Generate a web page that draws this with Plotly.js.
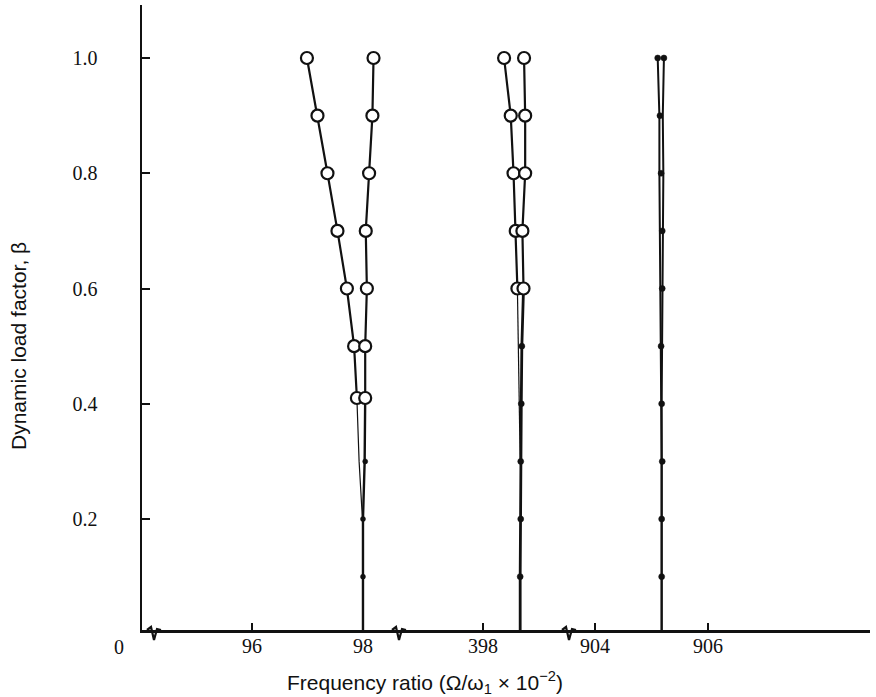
<!DOCTYPE html>
<html>
<head>
<meta charset="utf-8">
<script src="https://cdn.plot.ly/plotly-3.0.1.min.js"></script>
<style>
  html, body { margin: 0; padding: 0; background: #fff; }
  #chart { width: 876px; height: 697px; }
</style>
</head>
<body>
<div id="chart"></div>
<script>
// ---------- data ----------
// Segment 1 (around 98)
const s1Beta = [1.0, 0.9, 0.8, 0.7, 0.6, 0.5, 0.41];
const s1LeftX = [96.99, 97.18, 97.36, 97.54, 97.71, 97.84, 97.89];
const s1RightX = [98.19, 98.17, 98.11, 98.05, 98.07, 98.04, 98.04];
const s1LeftTailBeta = [0.41, 0.3, 0.2];
const s1LeftTailX = [97.89, 97.93, 97.99];
const s1RightTailBeta = [0.41, 0.3, 0.2, 0.1, 0.0];
const s1RightTailX = [98.04, 98.03, 98.0, 98.0, 98.0];
const s1DotBeta = [0.3, 0.2, 0.1];
const s1DotX = [98.04, 98.0, 98.0];

// Segment 2 (around 398)
const s2Beta = [1.0, 0.9, 0.8, 0.7, 0.6];
const s2LeftX = [398.38, 398.50, 398.55, 398.59, 398.62];
const s2RightX = [398.74, 398.76, 398.76, 398.71, 398.73];
const s2LeftTailBeta = [0.6, 0.5, 0.4, 0.3];
const s2LeftTailX = [398.62, 398.64, 398.66, 398.67];
const s2RightTailBeta = [0.6, 0.5, 0.4, 0.3, 0.2, 0.1, 0.0];
const s2RightTailX = [398.73, 398.70, 398.69, 398.68, 398.68, 398.67, 398.67];
const s2DotBeta = [0.5, 0.4, 0.3, 0.2, 0.1];
const s2DotX = [398.70, 398.69, 398.68, 398.68, 398.67];

// Segment 3 (around 905)
const s3Beta = [1.0, 0.9, 0.8, 0.7, 0.6, 0.5, 0.4, 0.3, 0.2, 0.1, 0.0];
const s3LeftX = [905.11, 905.14, 905.14, 905.15, 905.16, 905.16, 905.17, 905.18, 905.18, 905.18, 905.18];
const s3RightX = [905.22, 905.20, 905.21, 905.20, 905.19, 905.19, 905.18, 905.18, 905.18, 905.18, 905.18];
const s3DotBeta = [1.0, 1.0, 0.9, 0.8, 0.7, 0.6, 0.5, 0.4, 0.3, 0.2, 0.1];
const s3DotX = [905.11, 905.22, 905.15, 905.17, 905.19, 905.19, 905.17, 905.18, 905.19, 905.18, 905.18];

// tick labels
const yTickVals = [0.2, 0.4, 0.6, 0.8, 1.0];
const yTickText = ['0.2', '0.4', '0.6', '0.8', '1.0'];
const x1Ticks = [96, 98];
const x2Ticks = [398];
const x3Ticks = [904, 906];

// ---------- styling ----------
const INK = '#111';
const serif = 'Liberation Serif, Times New Roman, serif';
const sans = 'Liberation Sans, Arial, sans-serif';

function openCircles(x, y, xa) {
  return {x: x, y: y, xaxis: xa, yaxis: 'y', type: 'scatter', mode: 'lines+markers',
    line: {color: INK, width: 2.2},
    marker: {symbol: 'circle', size: 12, color: '#fff', line: {color: INK, width: 2.2}},
    cliponaxis: false, hoverinfo: 'skip'};
}
function plainLine(x, y, xa, w) {
  return {x: x, y: y, xaxis: xa, yaxis: 'y', type: 'scatter', mode: 'lines',
    line: {color: INK, width: w}, cliponaxis: true, hoverinfo: 'skip'};
}
function dots(x, y, xa, s) {
  return {x: x, y: y, xaxis: xa, yaxis: 'y', type: 'scatter', mode: 'markers',
    marker: {symbol: 'circle', color: INK, size: s, line: {color: INK, width: 0.5}},
    cliponaxis: false, hoverinfo: 'skip'};
}

const traces = [
  plainLine(s1LeftTailX, s1LeftTailBeta, 'x', 1.2),
  plainLine(s1RightTailX, s1RightTailBeta, 'x', 2.4),
  dots(s1DotX, s1DotBeta, 'x', 5),
  openCircles(s1LeftX, s1Beta, 'x'),
  openCircles(s1RightX, s1Beta, 'x'),

  plainLine(s2LeftTailX, s2LeftTailBeta, 'x2', 1.2),
  plainLine(s2RightTailX, s2RightTailBeta, 'x2', 2.8),
  dots(s2DotX, s2DotBeta, 'x2', 6),
  openCircles(s2LeftX, s2Beta, 'x2'),
  openCircles(s2RightX, s2Beta, 'x2'),

  plainLine(s3LeftX, s3Beta, 'x3', 2),
  plainLine(s3RightX, s3Beta, 'x3', 2),
  dots(s3DotX, s3DotBeta, 'x3', 6)
];

// axis geometry: plot area 142..870 px wide (728 px)
const W = 728;
const d1 = [0, (400 - 142) / W];
const d2 = [d1[1], (570 - 142) / W];
const d3 = [d2[1], 1];

function xAxis(domain, range, ticks) {
  return {
    domain: domain, range: range, anchor: 'y',
    tickmode: 'array', tickvals: ticks, ticktext: ticks.map(String),
    ticks: 'inside', ticklen: 7, tickwidth: 2, tickcolor: INK,
    showline: true, linecolor: INK, linewidth: 2.5,
    showgrid: false, zeroline: false,
    tickfont: {family: serif, size: 20, color: INK},
    ticklabelstandoff: -4,
    fixedrange: true
  };
}

function brk(xPaper) {
  return {type: 'path', xref: 'paper', yref: 'paper',
    xsizemode: 'pixel', ysizemode: 'pixel', xanchor: xPaper, yanchor: 0,
    path: 'M -8 0 L -4 3 L -1 -10 L 2 1 L 6 0',
    line: {color: INK, width: 2.2}};
}

const layout = {
  width: 876, height: 697,
  margin: {l: 142, r: 6, t: 5, b: 67},
  paper_bgcolor: '#fff', plot_bgcolor: '#fff',
  showlegend: false,
  xaxis: xAxis(d1, [94.018, 98.667], x1Ticks),
  xaxis2: xAxis(d2, [396.504, 399.568], x2Ticks),
  xaxis3: xAxis(d3, [903.558, 908.867], x3Ticks),
  yaxis: {
    range: [0.0074, 1.092], domain: [0, 1],
    tickmode: 'array', tickvals: yTickVals, ticktext: yTickText,
    ticks: 'inside', ticklen: 8, tickwidth: 2, tickcolor: INK,
    showline: true, linecolor: INK, linewidth: 2.5,
    showgrid: false, zeroline: false,
    tickfont: {family: serif, size: 20, color: INK},
    ticklabelstandoff: 38,
    fixedrange: true
  },
  shapes: [brk((155 - 142) / W), brk((400 - 142) / W), brk((570 - 142) / W)],
  annotations: [
    {text: '0', xref: 'paper', yref: 'paper', x: (119 - 142) / W, y: (630 - 647) / 625,
     xanchor: 'center', yanchor: 'middle', showarrow: false,
     font: {family: serif, size: 20, color: INK}},
    {text: 'Frequency ratio (Ω/ω<sub>1</sub> × 10<sup>−2</sup>)', xref: 'paper', yref: 'paper',
     x: (425 - 142) / W, y: (630 - 682) / 625, xanchor: 'center', yanchor: 'middle',
     showarrow: false, font: {family: sans, size: 21, color: INK}},
    {text: 'Dynamic load factor, β', xref: 'paper', yref: 'paper', textangle: -90,
     x: (18 - 142) / W, y: (630 - 346) / 625, xanchor: 'center', yanchor: 'middle',
     showarrow: false, font: {family: sans, size: 21, color: INK}}
  ]
};

Plotly.newPlot('chart', traces, layout, {displayModeBar: false, staticPlot: true});
</script>
</body>
</html>
